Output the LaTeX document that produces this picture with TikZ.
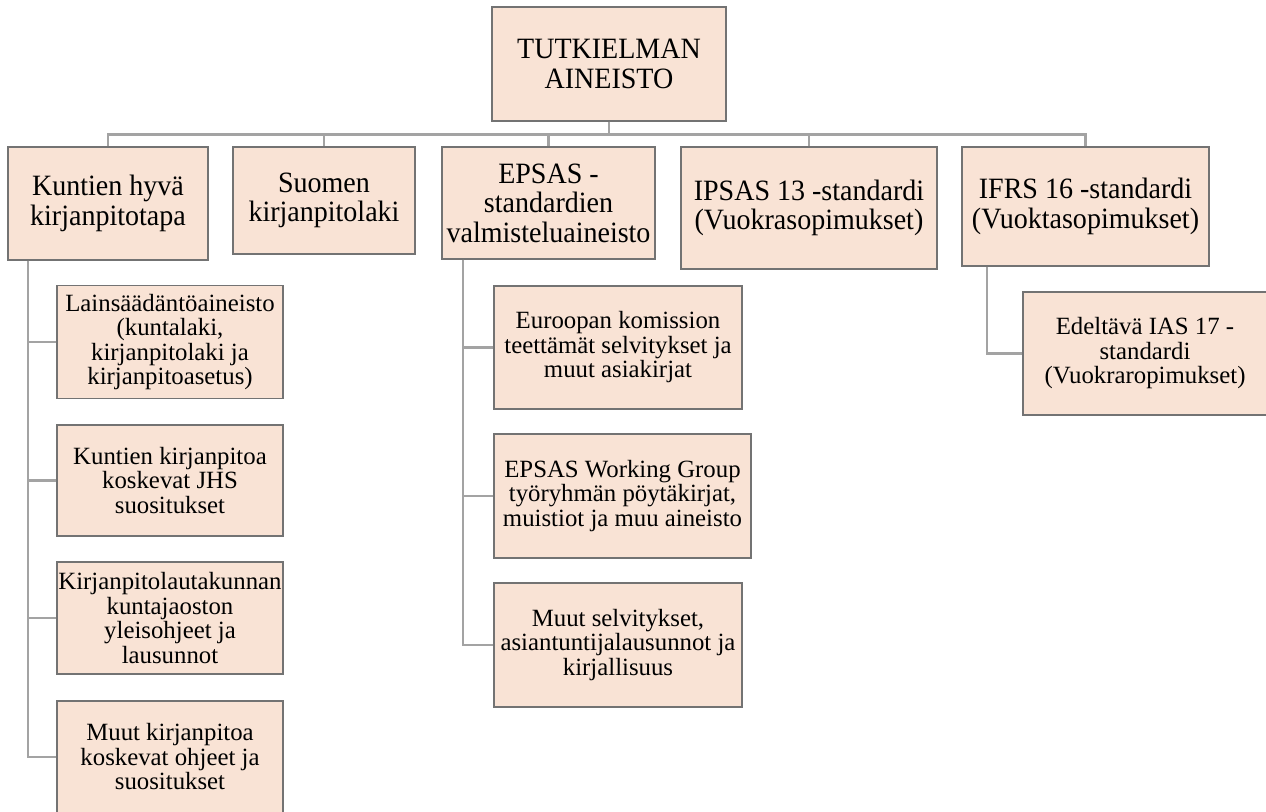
\documentclass[tikz,border=0pt]{standalone}
\usepackage{fontspec}
\setmainfont{Liberation Serif}
\newfontfamily\tallserif[FakeStretch=0.95]{Liberation Serif}
\definecolor{boxfill}{HTML}{F9E3D5}
\definecolor{boxline}{HTML}{737373}
\definecolor{connline}{HTML}{A3A3A3}
\tikzset{
  box/.style={draw=boxline, line width=1.1pt, fill=boxfill, inner sep=0pt, align=center, text=black},
  bigtext/.style={font=\tallserif\fontsize{29.5}{29.5}\selectfont},
  smalltext/.style={font=\fontsize{24.8}{24.5}\selectfont},
  conn/.style={draw=connline, line width=2.6pt}
}
\begin{document}
\begin{tikzpicture}[x=1pt,y=-1pt]
\useasboundingbox[fill=white] (0,0) rectangle (1266,811);
% top
\node[box,bigtext,minimum width=234pt,minimum height=114pt] (top) at (609,64) {TUTKIELMAN\\AINEISTO};
% level 1
\node[box,bigtext,minimum width=200pt,minimum height=113pt] (k1) at (108,203.5) {Kuntien hyvä\\kirjanpitotapa};
\node[box,bigtext,minimum width=182pt,minimum height=107pt] (k2) at (324,200.5) {Suomen\\kirjanpitolaki};
\node[box,bigtext,minimum width=213pt,minimum height=112pt] (k3) at (548.5,203) {EPSAS -\\standardien\\valmisteluaineisto};
\node[box,bigtext,minimum width=256pt,minimum height=122pt] (k4) at (809,208) {IPSAS 13 -standardi\\(Vuokrasopimukset)};
\node[box,bigtext,minimum width=247pt,minimum height=119pt] (k5) at (1085.5,206.5) {IFRS 16 -standardi\\(Vuoktasopimukset)};
% children of k1
\node[box,smalltext,minimum width=226pt,minimum height=113pt] (a1) at (170,342) {Lainsäädäntöaineisto\\(kuntalaki,\\kirjanpitolaki ja\\kirjanpitoasetus)};
\node[box,smalltext,minimum width=226pt,minimum height=111pt] (a2) at (170,480.5) {Kuntien kirjanpitoa\\koskevat JHS\\suositukset};
\node[box,smalltext,minimum width=226pt,minimum height=112pt] (a3) at (170,618) {Kirjanpitolautakunnan\\kuntajaoston\\yleisohjeet ja\\lausunnot};
\node[box,smalltext,minimum width=226pt,minimum height=112pt] (a4) at (170,757) {Muut kirjanpitoa\\koskevat ohjeet ja\\suositukset};
% children of k3
\node[box,smalltext,minimum width=248pt,minimum height=123pt] (b1) at (618,347.5) {Euroopan komission\\teettämät selvitykset ja\\muut asiakirjat};
\node[box,smalltext,minimum width=257pt,minimum height=124pt] (b2) at (622.5,496) {EPSAS Working Group\\työryhmän pöytäkirjat,\\muistiot ja muu aineisto};
\node[box,smalltext,minimum width=248pt,minimum height=124pt] (b3) at (618,645) {Muut selvitykset,\\asiantuntijalausunnot ja\\kirjallisuus};
% child of k5
\node[box,smalltext,minimum width=244pt,minimum height=123pt] (c1) at (1145,353.5) {Edeltävä IAS 17 -\\standardi\\(Vuokraropimukset)};
% connectors
\foreach \k in {k1,k2,k3,k4,k5}{
  \draw[conn] (top.south) -- ++(0,13) -| (\k.north);
}
\foreach \a in {a1,a2,a3,a4}{
  \draw[conn] ([xshift=-80pt]k1.south) |- (\a.west);
}
\foreach \b in {b1,b2,b3}{
  \draw[conn] ([xshift=-85.5pt]k3.south) |- (\b.west);
}
\draw[conn] ([xshift=-98.5pt]k5.south) |- (c1.west);
\end{tikzpicture}
\end{document}
